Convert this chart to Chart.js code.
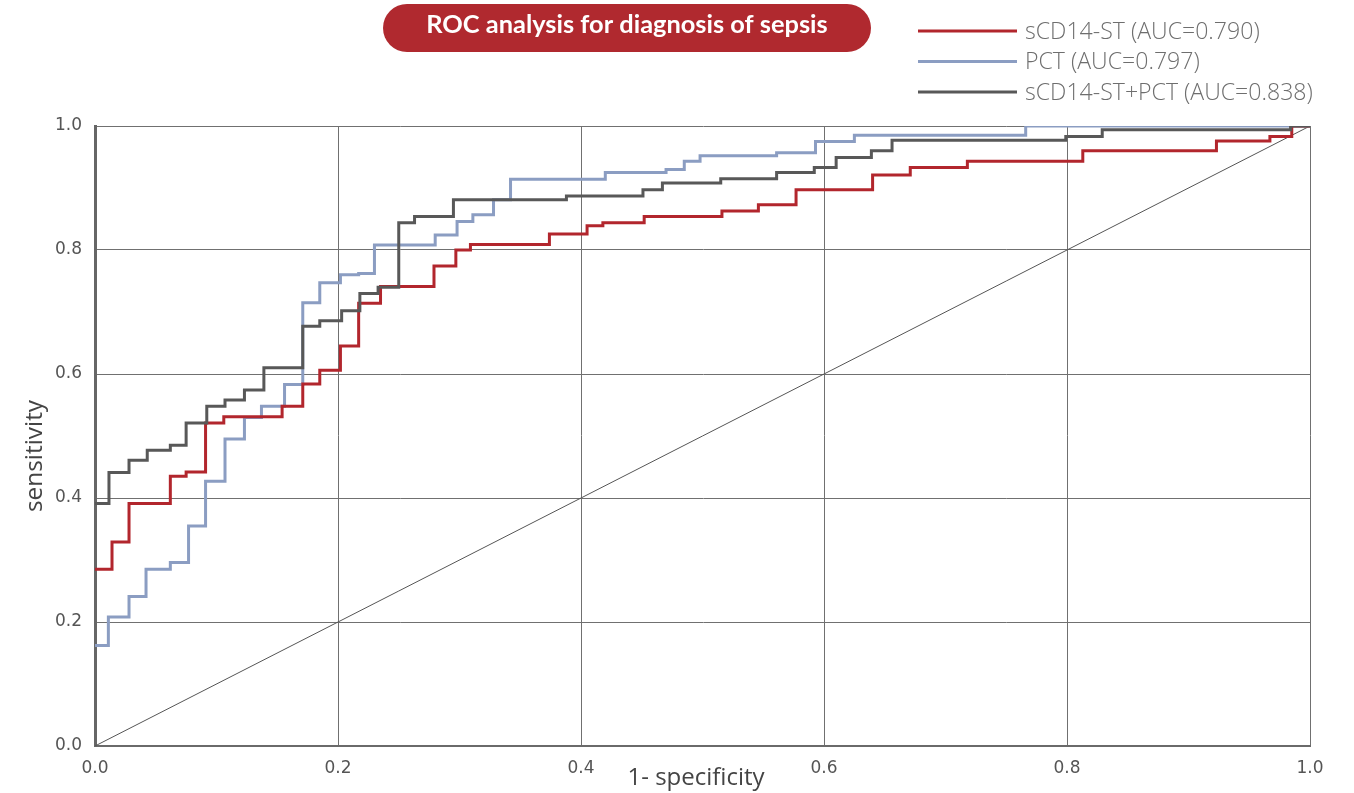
<!DOCTYPE html>
<html>
<head>
<meta charset="utf-8">
<script src="https://cdn.jsdelivr.net/npm/chart.js@4.4.1/dist/chart.umd.min.js"></script>
<style>
  html, body { margin: 0; padding: 0; background: #fff; }
  #wrap { width: 1354px; height: 793px; }
</style>
</head>
<body>
<div id="wrap"><canvas id="rocChart" width="1354" height="793"></canvas></div>
<script>
const titleText = 'ROC analysis for diagnosis of sepsis';
const seriesLabels = ['sCD14-ST (AUC=0.790)', 'PCT (AUC=0.797)', 'sCD14-ST+PCT (AUC=0.838)'];
const xTitle = '1- specificity';
const yTitle = 'sensitivity';
const tickValues = [0, 0.2, 0.4, 0.6, 0.8, 1.0];
const tickLabels = ['0.0', '0.2', '0.4', '0.6', '0.8', '1.0'];

// sCD14-ST
const fprST = [0, 0.014, 0.028, 0.062, 0.075, 0.091, 0.106, 0.154, 0.171, 0.185, 0.202, 0.217, 0.235, 0.279, 0.297, 0.309, 0.374, 0.405, 0.418, 0.452, 0.516, 0.546, 0.577, 0.640, 0.671, 0.718, 0.813, 0.923, 0.967, 0.985, 1.0];
const tprST = [0.285, 0.329, 0.391, 0.435, 0.442, 0.521, 0.531, 0.548, 0.584, 0.606, 0.645, 0.714, 0.741, 0.774, 0.800, 0.809, 0.826, 0.839, 0.844, 0.854, 0.863, 0.873, 0.897, 0.921, 0.933, 0.943, 0.960, 0.976, 0.983, 1.0, 1.0];

// PCT
const fprPCT = [0, 0.011, 0.028, 0.042, 0.062, 0.077, 0.091, 0.107, 0.123, 0.137, 0.156, 0.171, 0.185, 0.202, 0.217, 0.230, 0.280, 0.298, 0.311, 0.328, 0.342, 0.420, 0.470, 0.485, 0.498, 0.561, 0.593, 0.625, 0.766, 1.0];
const tprPCT = [0.162, 0.208, 0.241, 0.285, 0.296, 0.355, 0.427, 0.495, 0.530, 0.548, 0.583, 0.715, 0.747, 0.760, 0.762, 0.808, 0.824, 0.846, 0.857, 0.881, 0.914, 0.925, 0.930, 0.943, 0.952, 0.957, 0.975, 0.985, 1.0, 1.0];

// sCD14-ST+PCT
const fprComb = [0, 0.0115, 0.028, 0.043, 0.062, 0.075, 0.092, 0.107, 0.123, 0.139, 0.171, 0.185, 0.203, 0.218, 0.233, 0.250, 0.263, 0.295, 0.388, 0.451, 0.467, 0.515, 0.561, 0.592, 0.610, 0.639, 0.656, 0.799, 0.829, 0.984, 1.0];
const tprComb = [0.391, 0.441, 0.461, 0.477, 0.485, 0.521, 0.548, 0.558, 0.574, 0.610, 0.677, 0.686, 0.702, 0.730, 0.740, 0.844, 0.854, 0.881, 0.887, 0.897, 0.908, 0.915, 0.925, 0.933, 0.949, 0.960, 0.977, 0.983, 0.994, 1.0, 1.0];

// reference diagonal
const diagX = [0, 1];
const diagY = [0, 1];

const colors = ['#b2262d', '#8b9dc2', '#585858'];

function toPoints(xs, ys) {
  return xs.map((x, i) => ({ x: x, y: ys[i] }));
}

function fitFont(ctx, text, width, weight, family) {
  ctx.font = weight + ' 20px ' + family;
  const size = 20 * width / ctx.measureText(text).width;
  return weight + ' ' + size.toFixed(1) + 'px ' + family;
}

const rocHeader = {
  id: 'rocHeader',
  afterDraw(chart) {
    const ctx = chart.ctx;
    ctx.save();
    // title pill
    const px = 383, py = 4, pw = 488, ph = 48, r = 24;
    ctx.fillStyle = '#b0292f';
    ctx.beginPath();
    ctx.moveTo(px + r, py);
    ctx.lineTo(px + pw - r, py);
    ctx.arc(px + pw - r, py + r, r, -Math.PI / 2, Math.PI / 2);
    ctx.lineTo(px + r, py + ph);
    ctx.arc(px + r, py + r, r, Math.PI / 2, Math.PI * 1.5);
    ctx.closePath();
    ctx.fill();
    ctx.fillStyle = '#ffffff';
    ctx.font = fitFont(ctx, titleText, 402, 'bold', 'Lato');
    ctx.textAlign = 'center';
    ctx.textBaseline = 'middle';
    ctx.fillText(titleText, px + pw / 2, 25);

    // legend
    ctx.font = fitFont(ctx, seriesLabels[2], 288, '300', '"Open Sans"');
    ctx.textAlign = 'left';
    for (let i = 0; i < 3; i++) {
      const y = 31 + 30.5 * i;
      ctx.strokeStyle = chart.data.datasets[i].borderColor;
      ctx.lineWidth = 3;
      ctx.beginPath();
      ctx.moveTo(918, y);
      ctx.lineTo(1017, y);
      ctx.stroke();
      ctx.fillStyle = '#6e6e6e';
      ctx.fillText(chart.data.datasets[i].label, 1025, y + 1);
    }

    // axis titles
    ctx.fillStyle = '#444';
    ctx.font = fitFont(ctx, xTitle, 137, 'normal', '"Open Sans"');
    ctx.textAlign = 'center';
    ctx.fillText(xTitle, 696, 778);
    ctx.translate(35, 456);
    ctx.rotate(-Math.PI / 2);
    ctx.font = fitFont(ctx, yTitle, 112, 'normal', '"Open Sans"');
    ctx.fillText(yTitle, 0, 0);
    ctx.restore();
  }
};

const curve = (label, xs, ys, color, order) => ({
  label: label,
  data: toPoints(xs, ys),
  borderColor: color,
  backgroundColor: color,
  borderWidth: 3,
  stepped: true,
  pointRadius: 0,
  fill: false,
  borderJoinStyle: 'miter',
  order: order
});

const ctx = document.getElementById('rocChart').getContext('2d');
const rocChart = new Chart(ctx, {
  type: 'line',
  data: {
    datasets: [
      curve(seriesLabels[0], fprST, tprST, colors[0], 1),
      curve(seriesLabels[1], fprPCT, tprPCT, colors[1], 2),
      curve(seriesLabels[2], fprComb, tprComb, colors[2], 0),
      {
        label: 'reference',
        data: toPoints(diagX, diagY),
        borderColor: '#555555',
        borderWidth: 1,
        pointRadius: 0,
        fill: false,
        order: 3
      }
    ]
  },
  options: {
    responsive: false,
    animation: false,
    layout: { padding: { top: 126, right: 44, left: 0, bottom: 0 } },
    plugins: { legend: { display: false }, tooltip: { enabled: false } },
    scales: {
      x: {
        type: 'linear',
        min: 0,
        max: 1,
        afterBuildTicks: (axis) => { axis.ticks = tickValues.map(v => ({ value: v })); },
        afterFit: (axis) => { axis.height = 47; },
        ticks: {
          callback: (v, i) => tickLabels[i],
          padding: 12,
          color: '#555',
          font: { family: 'DejaVu Sans', size: 17 },
          maxRotation: 0
        },
        grid: { color: '#707070', lineWidth: 1, drawTicks: false },
        border: { color: '#6a6a6a', width: 2 }
      },
      y: {
        type: 'linear',
        min: 0,
        max: 1,
        afterBuildTicks: (axis) => { axis.ticks = tickValues.map(v => ({ value: v })); },
        afterFit: (axis) => { axis.width = 95; },
        ticks: {
          callback: (v, i) => tickLabels[i],
          padding: 13,
          color: '#555',
          font: { family: 'DejaVu Sans', size: 17 }
        },
        grid: { color: '#707070', lineWidth: 1, drawTicks: false },
        border: { color: '#666', width: 3 }
      }
    }
  },
  plugins: [rocHeader]
});
</script>
</body>
</html>
